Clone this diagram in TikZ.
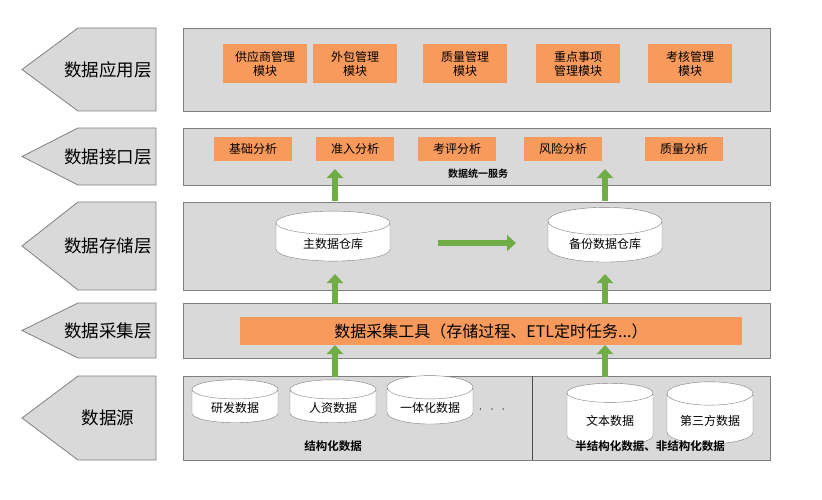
\documentclass[tikz,border=0pt]{standalone}
\usepackage{fontspec}
\setmainfont{Noto Sans CJK SC}
\newfontfamily\cjkbold{Noto Sans CJK SC Bold}
\usetikzlibrary{shapes.geometric,arrows.meta}
\definecolor{panelgray}{HTML}{D9D9D9}
\definecolor{edgegray}{HTML}{7F7F7F}
\definecolor{boxorange}{HTML}{F79A5B}
\definecolor{upgreen}{HTML}{70AD47}
\tikzset{
  layertag/.style={draw=edgegray,fill=panelgray,line width=0.8pt},
  panel/.style={draw=edgegray,fill=panelgray,line width=0.8pt},
  modbox/.style={fill=boxorange,minimum width=84pt,minimum height=39pt,align=center,font=\fontsize{12}{14}\selectfont,inner sep=1pt},
  apibox/.style={fill=boxorange,minimum width=78pt,minimum height=24pt,font=\fontsize{12}{14}\selectfont},
  db/.style={cylinder,shape border rotate=90,draw=edgegray,fill=white,aspect=0.35,font=\fontsize{12}{14}\selectfont},
  greenup/.style={upgreen,line width=6pt,-{Triangle[length=9pt,width=16pt]}},
}
\begin{document}
\begin{tikzpicture}[x=1pt,y=-1pt]
\useasboundingbox (0,0) rectangle (822,500);

% layer tags on the left
\foreach \top/\bot/\name in {28/111/数据应用层,128/185/数据接口层,202/290/数据存储层,303/358/数据采集层,376/460/数据源}{
  \draw[layertag] (22,{(\top+\bot)/2}) -- (78,\top) -- (156,\top) -- (156,\bot) -- (78,\bot) -- cycle;
  \node[font=\fontsize{17.5}{20}\selectfont] at (108,{(\top+\bot)/2}) {\name};
}

% panels
\draw[panel] (183,28) rectangle (770,111);
\draw[panel] (183,128) rectangle (770,185);
\draw[panel] (183,202) rectangle (770,290);
\draw[panel] (183,303) rectangle (770,358);
\draw[panel] (183,376) rectangle (770,460);
\draw[line width=0.8pt,black!70] (532,376) -- (532,460);

% application layer
\node[modbox] (supplier) at (265,64) {供应商管理\\模块};
\node[modbox] (outsource) at (355,64) {外包管理\\模块};
\node[modbox] (quality) at (465,64) {质量管理\\模块};
\node[modbox] (keyitem) at (578,64) {重点事项\\管理模块};
\node[modbox] (assess) at (690,64) {考核管理\\模块};

% interface layer
\node[apibox] (basic) at (253,149) {基础分析};
\node[apibox] (access) at (355,149) {准入分析};
\node[apibox] (review) at (457,149) {考评分析};
\node[apibox] (risk) at (563,149) {风险分析};
\node[apibox] (qanalysis) at (684,149) {质量分析};
\node[font=\cjkbold\fontsize{10}{12}\selectfont] (unified) at (478,174) {数据统一服务};

% storage layer
\node[db,minimum width=114pt,minimum height=50pt] (master) at (333,244) {主数据仓库};
\node[db,minimum width=114pt,minimum height=50pt] (backup) at (605,244) {备份数据仓库};
\coordinate (flowl) at (438,243); \coordinate (flowr) at (516,243);
\draw[greenup] (flowl) -- (flowr);

% collection layer
\node[fill=boxorange,minimum width=502pt,minimum height=28pt,font=\fontsize{16}{18}\selectfont] (etl) at (491,331) {数据采集工具（存储过程、ETL定时任务...）};

% source layer
\node[db,minimum width=86pt,minimum height=42pt] (rnd) at (235,408) {研发数据};
\node[db,minimum width=86pt,minimum height=42pt] (hr) at (333,408) {人资数据};
\node[db,minimum width=86pt,minimum height=42pt] (integ) at (430,408) {一体化数据};
\node[font=\fontsize{12}{14}\selectfont] (more) at (492,410) {$\cdot\ \ \cdot\ \ \cdot$};
\node[db,minimum width=86pt,minimum height=62pt] (text) at (610,421) {文本数据};
\node[db,minimum width=86pt,minimum height=62pt] (third) at (710,421) {第三方数据};
\node[font=\cjkbold\fontsize{11.5}{13}\selectfont] (structured) at (333,446) {结构化数据};
\node[font=\cjkbold\fontsize{11.5}{13}\selectfont] (semi) at (650,446) {半结构化数据、非结构化数据};

% upward flows
\coordinate (s1) at (335,377); \coordinate (e1) at (335,345);
\coordinate (s2) at (605,377); \coordinate (e2) at (605,345);
\coordinate (s3) at (335,304); \coordinate (e3) at (335,274);
\coordinate (s4) at (605,304); \coordinate (e4) at (605,274);
\coordinate (s5) at (335,201); \coordinate (e5) at (335,169);
\coordinate (s6) at (605,201); \coordinate (e6) at (605,169);
\foreach \i in {1,...,6}{
  \draw[greenup] (s\i) -- (e\i);
}
\end{tikzpicture}
\end{document}
